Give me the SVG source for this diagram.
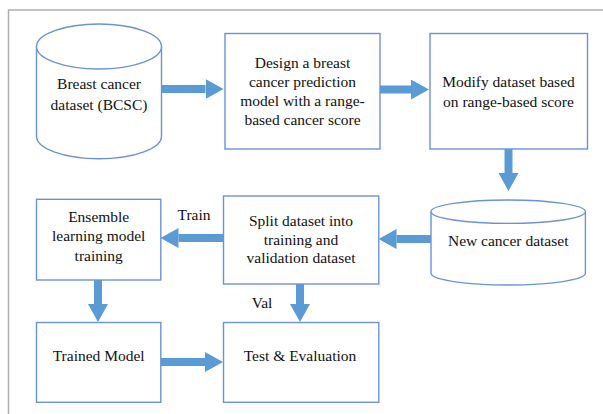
<svg xmlns="http://www.w3.org/2000/svg" width="603" height="414" viewBox="0 0 603 414">
<defs>
<style>
.box{fill:#fff;stroke:#6b92d8;stroke-width:1.4}
.t{font-size:15.5px;fill:#111;text-anchor:middle}
.c{stroke:#5b9bd5;stroke-width:8;fill:none}
</style>
<marker id="ah" viewBox="0 0 18 20" refX="0" refY="10" markerWidth="18" markerHeight="20" markerUnits="userSpaceOnUse" orient="auto">
<path d="M0,0 L18,10 L0,20 z" fill="#5b9bd5"/>
</marker>
</defs>
<rect width="603" height="414" fill="#fff"/>
<path d="M8.5,414 L8.5,10 L603,10" fill="none" stroke="#b0b0b0" stroke-width="1.5"/>

<g font-family="Liberation Serif, DejaVu Serif, serif">
<g id="connectors">
<line class="c" x1="161.5" y1="89" x2="205.5" y2="89" marker-end="url(#ah)"/>
<line class="c" x1="380" y1="89.5" x2="411" y2="89.5" marker-end="url(#ah)"/>
<line class="c" x1="508.5" y1="149" x2="508.5" y2="173" marker-end="url(#ah)"/>
<line class="c" x1="431" y1="239" x2="396.5" y2="239" marker-end="url(#ah)"/>
<line class="c" x1="223.5" y1="238" x2="178.5" y2="238" marker-end="url(#ah)"/>
<line class="c" x1="98" y1="280" x2="98" y2="304" marker-end="url(#ah)"/>
<line class="c" x1="300" y1="284" x2="300" y2="304" marker-end="url(#ah)"/>
<line class="c" x1="160.8" y1="362" x2="205" y2="362" marker-end="url(#ah)"/>
<text class="t" x="194" y="220">Train</text>
<text class="t" x="262" y="308">Val</text>
</g>

<g id="bcsc">
<path class="box" d="M36.5,46.5 L36.5,136.2 A62.5,22.5 0 0 0 161.5,136.2 L161.5,46.5"/>
<ellipse class="box" cx="99" cy="46.5" rx="62.5" ry="22.5"/>
<text class="t" x="99" y="89.3">Breast cancer</text>
<text class="t" x="99" y="110">dataset (BCSC)</text>
</g>

<g id="design">
<rect class="box" x="225" y="33.5" width="155" height="115.5"/>
<text class="t" x="302.5" y="67.7">Design a breast</text>
<text class="t" x="302.5" y="87">cancer prediction</text>
<text class="t" x="302.5" y="106">model with a range-</text>
<text class="t" x="302.5" y="125">based cancer score</text>
</g>

<g id="modify">
<rect class="box" x="430" y="33.5" width="157.5" height="115.5"/>
<text class="t" x="508.5" y="87.3">Modify dataset based</text>
<text class="t" x="508.5" y="107">on range-based score</text>
</g>

<g id="newdata">
<path class="box" d="M431,211.7 L431,273.3 A77.2,11.7 0 0 0 585.4,273.3 L585.4,211.7"/>
<ellipse class="box" cx="508.2" cy="211.7" rx="77.2" ry="11.7"/>
<text class="t" x="508.2" y="246">New cancer dataset</text>
</g>

<g id="split">
<rect class="box" x="223.5" y="196" width="155.3" height="88"/>
<text class="t" x="301" y="226">Split dataset into</text>
<text class="t" x="301" y="244.5">training and</text>
<text class="t" x="301" y="263.3">validation dataset</text>
</g>

<g id="ensemble">
<rect class="box" x="36.5" y="199.3" width="124.3" height="80.7"/>
<text class="t" x="98.7" y="221.7">Ensemble</text>
<text class="t" x="98.7" y="241.3">learning model</text>
<text class="t" x="98.7" y="261">training</text>
</g>

<g id="trained">
<rect class="box" x="36.5" y="322.5" width="124.3" height="79.8"/>
<text class="t" x="98.7" y="360.7">Trained Model</text>
</g>

<g id="test">
<rect class="box" x="223.5" y="322.5" width="155.3" height="79.8"/>
<text class="t" x="300" y="361">Test &amp; Evaluation</text>
</g>
</g>
</svg>
